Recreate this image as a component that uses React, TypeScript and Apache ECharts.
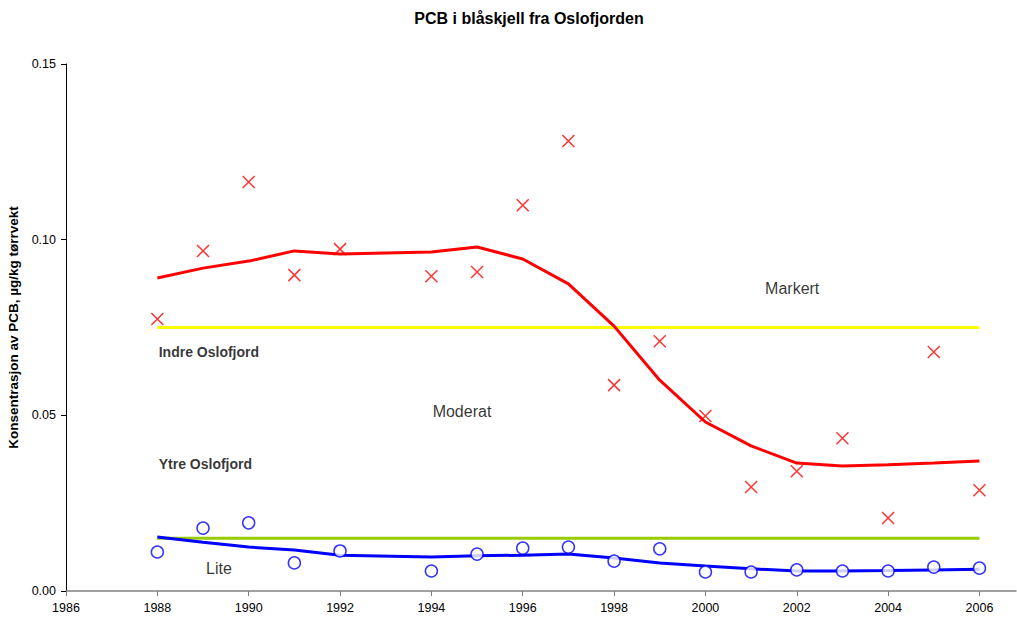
import React, { useEffect, useRef } from "react";
import * as echarts from "echarts";

const years = [1988, 1989, 1990, 1991, 1992, 1994, 1995, 1996, 1997, 1998, 1999, 2000, 2001, 2002, 2003, 2004, 2005, 2006];
const innerPoints = [0.0774, 0.0968, 0.1164, 0.0899, 0.0973, 0.0896, 0.0908, 0.1098, 0.1281, 0.0586, 0.0711, 0.0498, 0.0296, 0.0341, 0.0435, 0.0208, 0.068, 0.0287];
const innerTrend = [0.0891, 0.0919, 0.0939, 0.0968, 0.0959, 0.0965, 0.0979, 0.0945, 0.0874, 0.0754, 0.06, 0.0481, 0.0413, 0.0364, 0.0356, 0.0359, 0.0364, 0.037];
const outerPoints = [0.0111, 0.0179, 0.0194, 0.008, 0.0114, 0.0057, 0.0105, 0.0122, 0.0125, 0.0085, 0.012, 0.0054, 0.0054, 0.006, 0.0057, 0.0057, 0.0068, 0.0065];
const outerTrend = [0.0154, 0.0139, 0.0125, 0.0117, 0.0102, 0.0097, 0.01, 0.0102, 0.0105, 0.0094, 0.008, 0.0071, 0.0063, 0.0057, 0.0057, 0.0058, 0.006, 0.0062];
const thresholdYears = [1988, 2006];
const markertLimit = 0.075;
const liteLimit = 0.015;
const xTicks = [1986, 1988, 1990, 1992, 1994, 1996, 1998, 2000, 2002, 2004, 2006];
const annotations: [number, number, string, boolean, string][] = [
  [2001.9, 0.0862, "Markert", false, "center"],
  [1988.03, 0.068, "Indre Oslofjord", true, "left"],
  [1994.67, 0.0512, "Moderat", false, "center"],
  [1988.03, 0.0361, "Ytre Oslofjord", true, "left"],
  [1989.35, 0.0063, "Lite", false, "center"],
];

const FONT = "Liberation Sans, Arial, sans-serif";

export default function App() {
  const ref = useRef<HTMLDivElement>(null);
  useEffect(() => {
    if (!ref.current) return;
    const chart = echarts.init(ref.current, undefined, { renderer: "svg" });
    const pair = (vals: number[]) => years.map((y, i) => [y, vals[i]]);
    chart.setOption({
      animation: false,
      backgroundColor: "#fff",
      textStyle: { fontFamily: FONT },
      title: {
        text: "PCB i blåskjell fra Oslofjorden",
        left: 524,
        top: 5,
        textAlign: "center",
        textStyle: { fontFamily: FONT, fontSize: 16, fontWeight: "bold", color: "#000" },
      },
      grid: { left: 66, right: 1, top: 64, bottom: 30, containLabel: false, outerBoundsMode: "none" },
      xAxis: {
        type: "value",
        min: 1986,
        max: 2006.8,
        splitLine: { show: false },
        axisLine: { lineStyle: { color: "#808080", width: 1.5 } },
        axisTick: { customValues: xTicks, length: 5, lineStyle: { color: "#808080" } },
        axisLabel: {
          customValues: xTicks,
          color: "#000",
          fontSize: 12.5,
          margin: 10,
          fontFamily: FONT,
          formatter: (v: number) => String(v),
        },
      },
      yAxis: {
        type: "value",
        min: 0,
        max: 0.15,
        interval: 0.05,
        name: "Konsentrasjon av PCB, µg/kg tørrvekt",
        nameLocation: "middle",
        nameGap: 45,
        nameTextStyle: { fontFamily: FONT, fontSize: 13.5, fontWeight: "bold", color: "#000" },
        splitLine: { show: false },
        axisLine: { show: true, lineStyle: { color: "#000", width: 1 } },
        axisTick: { show: true, length: 5, lineStyle: { color: "#000" } },
        axisLabel: {
          color: "#000",
          fontSize: 12.5,
          margin: 10,
          fontFamily: FONT,
          formatter: (v: number) => v.toFixed(2),
        },
      },
      series: [
        {
          type: "line",
          data: thresholdYears.map((y) => [y, markertLimit]),
          symbol: "none",
          lineStyle: { color: "#FFFF00", width: 3 },
          z: 2,
        },
        {
          type: "line",
          data: thresholdYears.map((y) => [y, liteLimit]),
          symbol: "none",
          lineStyle: { color: "#99CC00", width: 3 },
          z: 2,
        },
        {
          type: "line",
          data: pair(innerTrend),
          symbol: "none",
          lineStyle: { color: "#FF0000", width: 3 },
          z: 3,
        },
        {
          type: "line",
          data: pair(outerTrend),
          symbol: "none",
          lineStyle: { color: "#0000FF", width: 3 },
          z: 3,
        },
        {
          type: "scatter",
          data: pair(innerPoints),
          symbol: "path://M0,0L10,10M10,0L0,10",
          symbolSize: 12,
          itemStyle: { color: "none", borderColor: "#FF0000", borderWidth: 1.5 },
          z: 4,
        },
        {
          type: "scatter",
          data: pair(outerPoints),
          symbol: "circle",
          symbolSize: 12,
          itemStyle: { color: "#fff", borderColor: "#0000FF", borderWidth: 1.5 },
          z: 4,
        },
        {
          type: "scatter",
          data: annotations.map((a) => ({
            value: [a[0], a[1]],
            label: {
              show: true,
              formatter: a[2],
              position: "inside",
              align: a[4],
              verticalAlign: "middle",
              fontFamily: FONT,
              fontSize: a[3] ? 14 : 16,
              fontWeight: a[3] ? "bold" : "normal",
              color: "#000",
            },
          })),
          symbol: "circle",
          symbolSize: 1,
          itemStyle: { color: "transparent" },
          silent: true,
          z: 5,
        },
      ],
    });
    return () => chart.dispose();
  }, []);
  return <div ref={ref} style={{ position: "fixed", left: 0, top: 0, width: 1017, height: 621 }} />;
}
